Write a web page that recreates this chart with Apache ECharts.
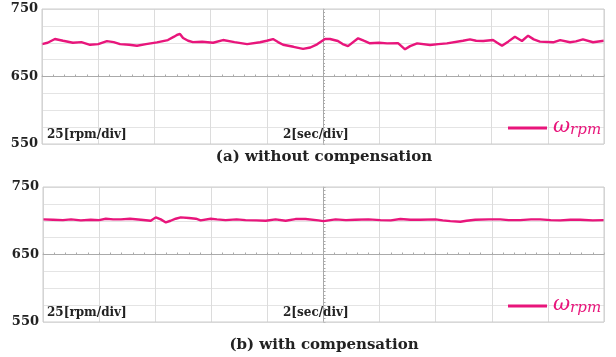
<!DOCTYPE html>
<html><head><meta charset="utf-8">
<script src="https://cdn.jsdelivr.net/npm/echarts@6/dist/echarts.min.js"></script>
<style>html,body{margin:0;padding:0;background:#fff}#c{width:616px;height:357px}</style>
</head><body><div id="c"></div>
<script>
// time axis (seconds), 2 sec/div, 10 divisions
const timeA = [0,0.2,0.46,0.75,1.10,1.40,1.71,2.0,2.31,2.55,2.78,3.1,3.38,3.7,4.09,4.48,4.70,4.80,4.91,5.02,5.20,5.37,5.70,6.09,6.44,6.85,7.30,7.76,8.0,8.22,8.40,8.58,8.95,9.29,9.55,9.79,10.07,10.25,10.53,10.70,10.89,11.25,11.45,11.67,12.0,12.28,12.67,12.92,13.1,13.35,13.81,14.1,14.41,14.98,15.23,15.45,15.70,16.05,16.20,16.37,16.60,16.83,17.08,17.30,17.50,17.72,18.19,18.44,18.79,19.0,19.25,19.61,20];
const rpmA  = [698,700,705.6,703,700,701,697,698,702.5,701,698,697,695.5,698,700.5,704,709,711.5,713,707,703,701,701.5,700,704,701,698,700.7,703,705.5,701,697,694,691,693,697.7,705.6,705.6,702.6,698,695,706.6,703,699.2,700,699,699.5,690.3,695,699,696.7,698,699,703,705,703,702.6,704,700,695.7,702,709,702.6,710.5,705,701.6,700.7,704,700.7,702,705,700.7,703];
const timeB = [0,0.35,0.71,1.0,1.35,1.7,2.0,2.24,2.5,2.78,3.1,3.49,3.84,4.02,4.2,4.38,4.55,4.73,4.91,5.2,5.45,5.62,5.98,6.2,6.51,6.9,7.22,7.6,7.94,8.29,8.65,9.0,9.36,9.82,10,10.43,10.8,11.14,11.6,12.03,12.4,12.74,13.1,13.45,13.99,14.25,14.52,14.88,15.1,15.41,15.9,16.3,16.6,17.01,17.4,17.72,18.1,18.44,18.8,19.15,19.6,20];
const rpmB  = [702,701.5,701,702,700.5,701.5,701,703,702,702,703,701.5,700,705,702,697.5,700,703,705,704,703,700.5,703,702,701,702,701,700.5,700,702,700,702.5,702.5,700.5,699.5,702,701,701.5,702,701,700.5,702.5,701.5,701.5,702,700.5,699.5,698.5,700,701.5,702,702,701,701,702,702,701,700.5,701.5,701.5,700.5,701];
const yTicks = [550,650,750];
const titles = ['(a) without compensation','(b) with compensation'];
const scaleTexts = ['25[rpm/div]','2[sec/div]'];

const PINK = '#e8157b';
const SERIF = '"DejaVu Serif", serif';
const grids = [
  {left:42, top:9, width:562, height:135},
  {left:43, top:187, width:561, height:135}
];
const chart = echarts.init(document.getElementById('c'), null, {renderer:'canvas'});
const xAxes = [], yAxes = [], series = [];
grids.forEach((g,i)=>{
  xAxes.push({gridIndex:i,type:'value',min:0,max:20,interval:2,
    axisLine:{show:false},axisTick:{show:false},axisLabel:{show:false},
    splitLine:{show:true,lineStyle:{color:'#dcdcdc',width:1}}});
  xAxes.push({gridIndex:i,type:'value',min:0,max:20,interval:2,position:'bottom',offset:-grids[i].height/2,
    axisLine:{show:true,lineStyle:{color:'#aaaaaa'}},axisTick:{show:true,length:2,inside:true,lineStyle:{color:'#aaaaaa'}},
    minorTick:{show:true,splitNumber:5,length:2,lineStyle:{color:'#aaaaaa'}},
    axisLabel:{show:false},splitLine:{show:false}});
  yAxes.push({gridIndex:i,type:'value',min:550,max:750,interval:25,
    axisLine:{show:false},axisTick:{show:false},
    axisLabel:{show:true,margin:4,color:'#222',fontFamily:SERIF,fontWeight:'bold',fontSize:13,
      formatter:v=>yTicks.includes(v)?String(v):''},
    splitLine:{show:true,lineStyle:{color:'#e4e4e4',width:1}}});
  yAxes.push({gridIndex:i,type:'value',min:550,max:750,interval:25,position:'left',offset:-grids[i].width/2,
    axisLine:{show:true,lineStyle:{color:'#aaaaaa'}},axisTick:{show:true,length:2,inside:true,lineStyle:{color:'#aaaaaa'}},
    minorTick:{show:true,splitNumber:5,length:2,lineStyle:{color:'#aaaaaa'}},
    axisLabel:{show:false},splitLine:{show:false}});
});
series.push({type:'line',xAxisIndex:0,yAxisIndex:0,data:[],markLine:{silent:true,symbol:'none',label:{show:false},lineStyle:{color:'#aaaaaa',type:'solid',width:1},data:[{yAxis:650}]}});
series.push({type:'line',xAxisIndex:2,yAxisIndex:2,data:[],markLine:{silent:true,symbol:'none',label:{show:false},lineStyle:{color:'#aaaaaa',type:'solid',width:1},data:[{yAxis:650}]}});
series.push({type:'line',xAxisIndex:0,yAxisIndex:0,showSymbol:false,smooth:false,
  lineStyle:{color:PINK,width:2.4},data:timeA.map((t,k)=>[t,rpmA[k]])});
series.push({type:'line',xAxisIndex:2,yAxisIndex:2,showSymbol:false,smooth:false,
  lineStyle:{color:PINK,width:2.4},data:timeB.map((t,k)=>[t,rpmB[k]])});

const graphic = [];
grids.forEach((g,i)=>{
  const bottom = g.top + g.height;
  graphic.push({type:'rect',shape:{x:g.left,y:g.top,width:g.width,height:g.height},style:{fill:'none',stroke:'#cccccc',lineWidth:1},z:5});
  graphic.push({type:'text',x:47,y:bottom-15,style:{text:scaleTexts[0],font:'bold 12px '+SERIF,fill:'#222'},z:6});
  graphic.push({type:'text',x:283,y:bottom-15,style:{text:scaleTexts[1],font:'bold 12px '+SERIF,fill:'#222'},z:6});
  graphic.push({type:'line',shape:{x1:508,y1:bottom-16,x2:547,y2:bottom-16},style:{stroke:PINK,lineWidth:3},z:6});
  graphic.push({type:'text',x:553,y:bottom-29,style:{
    text:'{w|ω}{s|rpm}',
    rich:{w:{font:'italic 21px '+SERIF,fill:PINK},s:{font:'italic 15px '+SERIF,fill:PINK,padding:[8,0,0,0]}}},z:6});
  graphic.push({type:'text',x:324,y:bottom+(i===0?6:16),style:{text:titles[i],font:'bold 15px '+SERIF,fill:'#222',textAlign:'center'},z:6});
});

chart.setOption({
  animation:false,
  grid:grids.map(g=>Object.assign({show:false},g)),
  xAxis:xAxes, yAxis:yAxes, series:series, graphic:graphic
});
</script></body></html>
